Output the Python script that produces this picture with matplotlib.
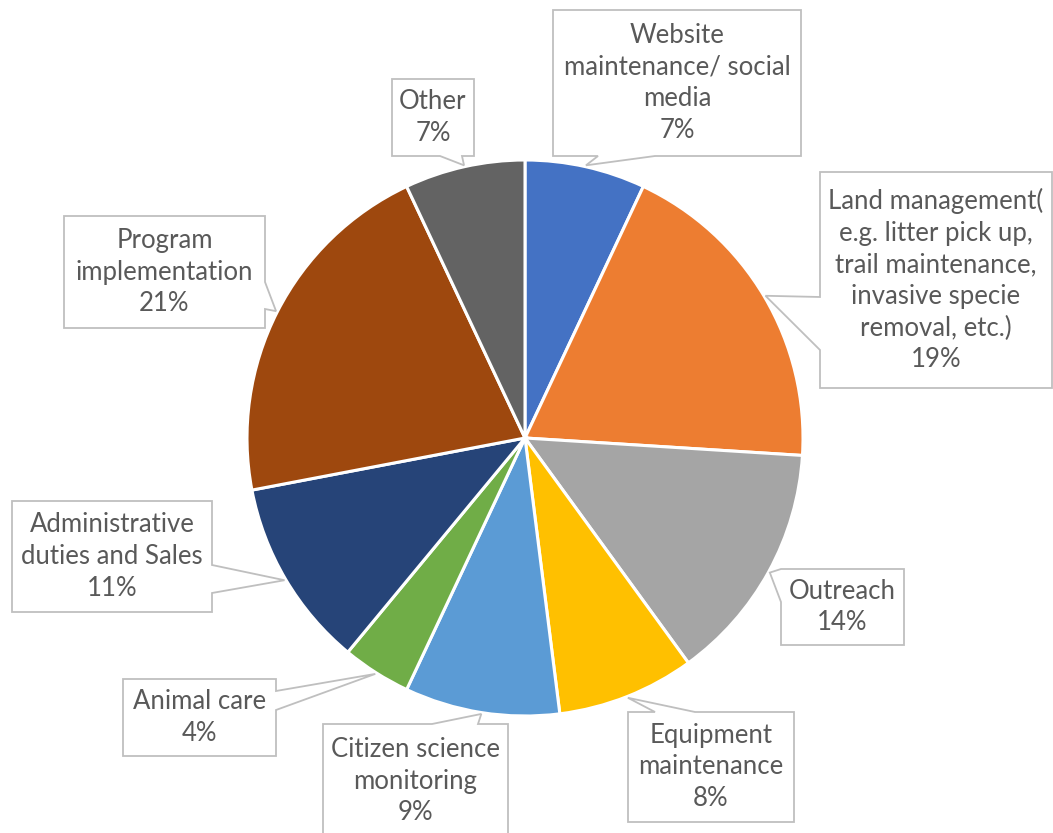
import numpy as np
import matplotlib.pyplot as plt
from matplotlib.patches import Polygon

labels = ["Website\nmaintenance/ social\nmedia",
          "Land management(\ne.g. litter pick up,\ntrail maintenance,\ninvasive specie\nremoval, etc.)",
          "Outreach",
          "Equipment\nmaintenance",
          "Citizen science\nmonitoring",
          "Animal care",
          "Administrative\nduties and Sales",
          "Program\nimplementation",
          "Other"]
shares = [7, 19, 14, 8, 9, 4, 11, 21, 7]
colors = ["#4472C4", "#ED7D31", "#A5A5A5", "#FFC000", "#5B9BD5",
          "#70AD47", "#264478", "#9E480E", "#636363"]

# callout boxes in pixel coords (y measured from top): x0, y0, x1, y1,
# side carrying the pointer, and the two points where the pointer leaves it
boxes = [
    (553, 10, 801, 156, "bottom", 598, 655),
    (820, 172, 1052, 388, "left", 297, 350),
    (781, 569, 904, 645, "left", 569, 602),
    (628, 712, 794, 822, "top", 655, 695),
    (323, 724, 508, 845, "top", 432, 478),
    (123, 679, 276, 756, "right", 691, 710),
    (12, 501, 212, 612, "right", 565, 593),
    (64, 216, 265, 328, "right", 282, 309),
    (392, 79, 474, 156, "bottom", 440, 462),
]

W, H = 1053, 833
cx, cy, r = 525, 438, 278

fig = plt.figure(figsize=(W / 100, H / 100), dpi=100)
ax = fig.add_axes([0, 0, 1, 1])
ax.pie(shares, colors=colors, startangle=90, counterclock=False,
       center=(cx, H - cy), radius=r,
       wedgeprops=dict(edgecolor="white", linewidth=2.2))
ax.set_xlim(0, W)
ax.set_ylim(0, H)
ax.set_aspect("equal")
ax.axis("off")

cum = np.cumsum([0] + shares[:-1]) + np.array(shares) / 2
for lab, val, mid, (x0, y0, x1, y1, side, a, b) in zip(labels, shares, cum, boxes):
    ang = np.deg2rad(mid / 100 * 360)
    tx = cx + r * 1.005 * np.sin(ang)
    ty = cy - r * 1.005 * np.cos(ang)
    if side == "bottom":
        pts = [(x0, y0), (x1, y0), (x1, y1), (b, y1), (tx, ty), (a, y1), (x0, y1)]
    elif side == "top":
        pts = [(x0, y0), (a, y0), (tx, ty), (b, y0), (x1, y0), (x1, y1), (x0, y1)]
    elif side == "left":
        pts = [(x0, y0), (x1, y0), (x1, y1), (x0, y1), (x0, b), (tx, ty), (x0, a)]
    else:
        pts = [(x0, y0), (x1, y0), (x1, a), (tx, ty), (x1, b), (x1, y1), (x0, y1)]
    pts = [(px, H - py) for px, py in pts]
    ax.add_patch(Polygon(pts, closed=True, facecolor="white",
                         edgecolor="#BFBFBF", linewidth=1.3, zorder=3))
    ymid = (y0 + y1) / 2 if y1 <= H else y0 + 57
    ax.text((x0 + x1) / 2, H - ymid, f"{lab}\n{val}%", ha="center", va="center",
            fontsize=18.5, family="Lato", color="#595959", linespacing=1.33,
            zorder=4)

fig.savefig("out.png", dpi=100)
